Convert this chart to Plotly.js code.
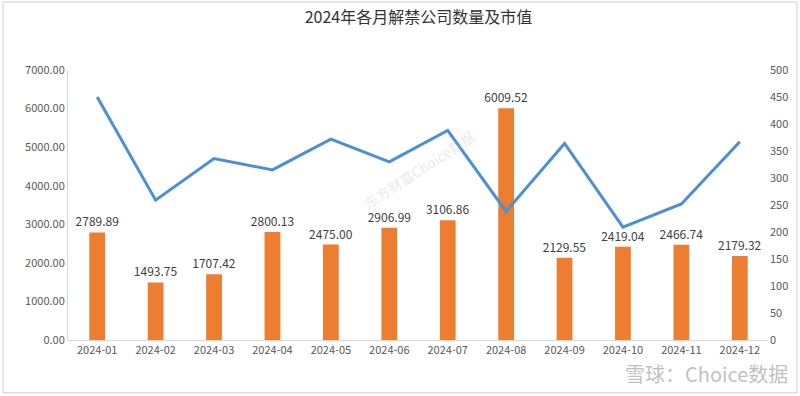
<!DOCTYPE html>
<html><head><meta charset="utf-8">
<script src="https://cdn.plot.ly/plotly-3.0.1.min.js"></script>
<style>html,body{margin:0;padding:0;background:#fff;}#chart{width:800px;height:396px;}</style>
</head><body><div id="chart"></div>
<script>
const months = ["2024-01","2024-02","2024-03","2024-04","2024-05","2024-06","2024-07","2024-08","2024-09","2024-10","2024-11","2024-12"];
const marketValue = [2789.89,1493.75,1707.42,2800.13,2475.00,2906.99,3106.86,6009.52,2129.55,2419.04,2466.74,2179.32];
const companyCount = [450,259,336,315,372,330,388,238,364,209,252,367];
const leftTicks = [0,1000,2000,3000,4000,5000,6000,7000];
const rightTicks = [0,50,100,150,200,250,300,350,400,450,500];

const font = "'Microsoft YaHei','Noto Sans CJK SC','Liberation Sans',sans-serif";
const traces = [
  {type:'bar', x:months, y:marketValue, name:'市值', marker:{color:'#ED7D31', line:{color:'#ED7D31',width:0}},
   width:0.27, text:marketValue.map(v=>v.toFixed(2)), textposition:'outside', constraintext:'none', cliponaxis:false,
   textfont:{size:12, color:'#404040', family:font}, hoverinfo:'x+y'},
  {type:'scatter', mode:'lines', x:months, y:companyCount, yaxis:'y2', name:'公司数量',
   line:{color:'#4A8FD8', width:3}}
];
const layout = {
  width:800, height:396,
  margin:{l:68, r:31, t:70, b:56},
  paper_bgcolor:'#fff', plot_bgcolor:'#fff',
  showlegend:false,
  font:{family:font, color:'#595959', size:11},
  title:{text:'2024年各月解禁公司数量及市值', x:0.5, xref:'paper', y:0.955, yanchor:'middle', font:{size:16, color:'#333', family:font}},
  bargap:0.73,
  xaxis:{type:'category', tickfont:{size:11, color:'#595959'}, showline:true, linecolor:'#d9d9d9', linewidth:1, ticks:'', showgrid:false, zeroline:false, ticklen:0},
  yaxis:{range:[0,7000], tickvals:leftTicks, ticktext:leftTicks.map(v=>v.toFixed(2)), showgrid:false, zeroline:false,
         showline:true, linecolor:'#d9d9d9', linewidth:1, ticks:'', tickfont:{size:11, color:'#595959'}},
  yaxis2:{range:[0,500], tickvals:rightTicks, overlaying:'y', side:'right', showgrid:false, zeroline:false,
          showline:false, ticks:'', tickfont:{size:11, color:'#595959'}},
  shapes:[
    {type:'rect', xref:'paper', yref:'paper', x0:-0.0927, x1:1.0399, y0:-0.196, y1:1.252, line:{color:'#d0d0d0', width:1}, fillcolor:'rgba(0,0,0,0)'}
  ],
  annotations:[
    {text:'东方财富Choice数据', xref:'paper', yref:'paper', x:0.5, y:0.8, showarrow:false, textangle:-33,
     font:{size:14, color:'rgba(180,180,180,0.3)', family:font}},
    {text:'雪球：Choice数据', xref:'paper', yref:'paper', x:1.03, y:-0.125, xanchor:'right', yanchor:'middle', showarrow:false,
     font:{size:20, color:'rgba(150,150,150,0.6)', family:font}}
  ]
};
Plotly.newPlot('chart', traces, layout, {displayModeBar:false, staticPlot:true});
</script></body></html>
